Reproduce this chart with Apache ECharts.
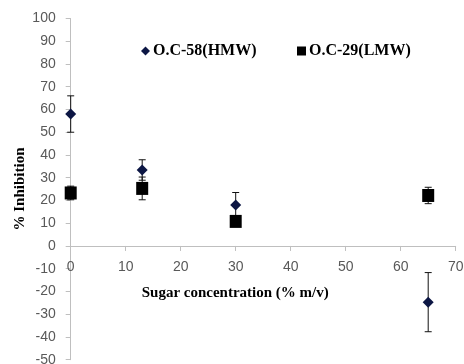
<!DOCTYPE html>
<html>
<head>
<meta charset="utf-8">
<script src="https://cdn.jsdelivr.net/npm/echarts@6/dist/echarts.min.js"></script>
<style>
  html, body { margin: 0; padding: 0; background: #fff; }
  #chart { width: 464px; height: 364px; }
</style>
</head>
<body>
<div id="chart"></div>
<script>
// Sugar concentration (% m/v) tested
const sugar = [0, 13, 30, 65];
// O.C-58 (high molecular weight): mean % inhibition and error
const hmwMean = [58, 33.4, 18, -24.7];
const hmwErr = [8, 4.5, 5.5, 13];
// O.C-29 (low molecular weight): mean % inhibition and error
const lmwMean = [23.3, 25.3, 10.8, 22.2];
const lmwErr = [3, 5, 2, 3.6];

const seriesNames = ['O.C-58(HMW)', 'O.C-29(LMW)'];

const yMin = -50, yMax = 100;
const gridTop = 18.5, gridBottom = 4.3, chartHeight = 364;

const serif = '"Liberation Serif", "Times New Roman", serif';
const sans = '"Liberation Sans", Arial, sans-serif';
const axisGray = '#bfbfbf';
const labelGray = '#595959';

function points(means) {
  return sugar.map((x, i) => [x, means[i]]);
}
function errRows(means, errs) {
  return sugar.map((x, i) => [x, means[i], errs[i]]);
}

// Vertical error bar with small caps
function renderErr(params, api) {
  const x = api.value(0), y = api.value(1), e = api.value(2);
  const top = api.coord([x, y + e]);
  const bot = api.coord([x, y - e]);
  const w = 3.5;
  const style = { stroke: '#111', lineWidth: 1 };
  return {
    type: 'group',
    children: [
      { type: 'line', shape: { x1: top[0], y1: top[1], x2: bot[0], y2: bot[1] }, style },
      { type: 'line', shape: { x1: top[0] - w, y1: top[1], x2: top[0] + w, y2: top[1] }, style },
      { type: 'line', shape: { x1: bot[0] - w, y1: bot[1], x2: bot[0] + w, y2: bot[1] }, style }
    ]
  };
}

// The x axis sits on y = 0: shift it up from the grid bottom by the height of the negative range
const plotHeight = chartHeight - gridTop - gridBottom;
const zeroOffset = -plotHeight * (0 - yMin) / (yMax - yMin);

const chart = echarts.init(document.getElementById('chart'), null, { renderer: 'canvas' });

chart.setOption({
  animation: false,
  backgroundColor: '#fff',
  grid: { left: 70.7, right: 8.3, top: gridTop, bottom: gridBottom, containLabel: false, outerBoundsMode: 'none' },
  legend: [
    {
      data: [{ name: seriesNames[0], icon: 'diamond' }],
      left: 141, top: 43, itemWidth: 9, itemHeight: 9, padding: 0,
      textStyle: { fontFamily: serif, fontWeight: 'bold', fontSize: 16, color: '#000', lineHeight: 16, padding: [0, 0, 0, -2] }
    },
    {
      data: [{ name: seriesNames[1], icon: 'rect' }],
      left: 297, top: 43, itemWidth: 9, itemHeight: 9, padding: 0,
      textStyle: { fontFamily: serif, fontWeight: 'bold', fontSize: 16, color: '#000', lineHeight: 16, padding: [0, 0, 0, -2] }
    }
  ],
  xAxis: {
    type: 'value', min: 0, max: 70, interval: 10,
    position: 'bottom', offset: zeroOffset,
    axisLine: { onZero: false, lineStyle: { color: axisGray, width: 1 } },
    axisTick: { show: true, length: 5, lineStyle: { color: axisGray } },
    axisLabel: { color: labelGray, fontFamily: sans, fontSize: 14, margin: 14 },
    splitLine: { show: false }
  },
  yAxis: {
    type: 'value', min: yMin, max: yMax, interval: 10,
    axisLine: { show: true, lineStyle: { color: axisGray, width: 1 } },
    axisTick: { show: true, length: 5, lineStyle: { color: axisGray } },
    axisLabel: { color: labelGray, fontFamily: sans, fontSize: 14, margin: 15 },
    splitLine: { show: false }
  },
  graphic: [
    {
      type: 'text', left: 141.7, top: 286,
      style: { text: 'Sugar concentration (% m/v)', font: 'bold 15px ' + serif, fill: '#000' }
    },
    {
      type: 'text', x: 20, y: 189, rotation: Math.PI / 2,
      style: { text: '% Inhibition', font: 'bold 15px ' + serif, fill: '#000', align: 'center', verticalAlign: 'middle' }
    }
  ],
  series: [
    {
      name: seriesNames[0] + ' err', type: 'custom', renderItem: renderErr,
      data: errRows(hmwMean, hmwErr), z: 3, silent: true
    },
    {
      name: seriesNames[1] + ' err', type: 'custom', renderItem: renderErr,
      data: errRows(lmwMean, lmwErr), z: 3, silent: true
    },
    {
      name: seriesNames[1], type: 'scatter', symbol: 'rect', symbolSize: [12, 13],
      itemStyle: { color: '#000', opacity: 1 }, data: points(lmwMean), z: 4
    },
    {
      name: seriesNames[0], type: 'scatter', symbol: 'diamond', symbolSize: 11,
      itemStyle: { color: '#0c1644', opacity: 1 }, data: points(hmwMean), z: 5
    }
  ]
});
</script>
</body>
</html>
